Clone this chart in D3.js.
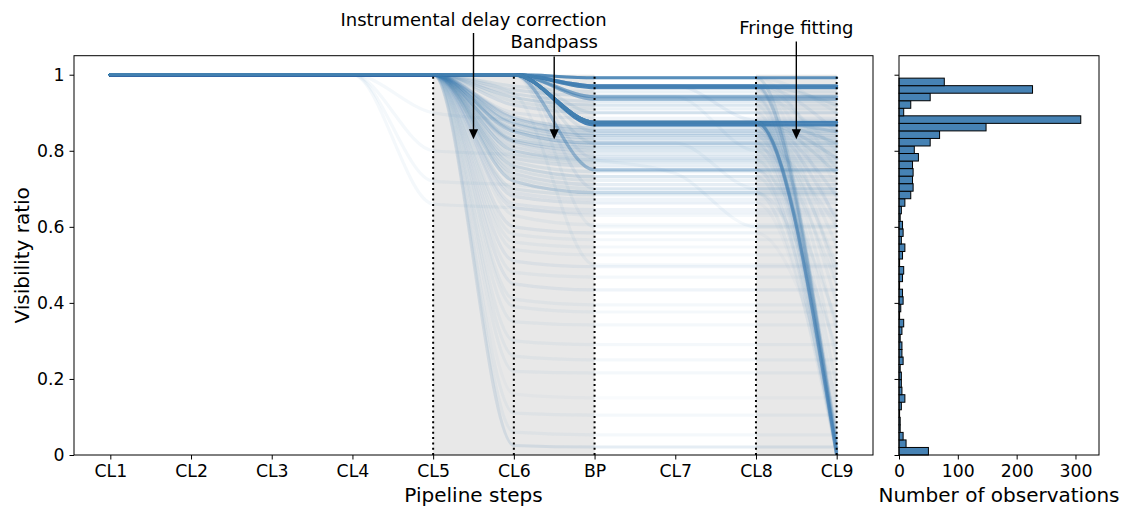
<!DOCTYPE html>
<html>
<head>
<meta charset="utf-8">
<script src="https://cdn.jsdelivr.net/npm/d3@7"></script>
<style>
  html, body { margin: 0; padding: 0; background: #fff; }
  svg { display: block; font-family: "DejaVu Sans", sans-serif; }
</style>
</head>
<body>
<svg id="chart" width="1126" height="506"></svg>
<script>
// ---------------- DATA ----------------
const steps = ["CL1", "CL2", "CL3", "CL4", "CL5", "CL6", "BP", "CL7", "CL8", "CL9"];
const shadedSpans = [["CL5", "BP"], ["CL8", "CL9"]];
const dottedSteps = ["CL5", "CL6", "BP", "CL8", "CL9"];

const yTicks = [0, 0.2, 0.4, 0.6, 0.8, 1];
const yTickLabels = ["0", "0.2", "0.4", "0.6", "0.8", "1"];
const histTicks = [0, 100, 200, 300];
const histTickLabels = ["0", "100", "200", "300"];

// Visibility ratio of groups of observations at every pipeline step (CL1 ... CL9)
const trajValues = [
  // main groups (split only by bandpass)
  [1,1,1,1,1,1,0.992,0.992,0.992,0.992],
  [1,1,1,1,1,1,0.971,0.971,0.971,0.971],
  [1,1,1,1,1,1,0.966,0.966,0.966,0.966],
  [1,1,1,1,1,1,0.942,0.942,0.942,0.942],
  [1,1,1,1,1,1,0.936,0.936,0.936,0.936],
  [1,1,1,1,1,1,0.875,0.875,0.875,0.875],
  [1,1,1,1,1,1,0.868,0.868,0.868,0.868],
  [1,1,1,1,1,1,0.75,0.75,0.75,0.75],
  // instrumental delay correction losses
  [1,1,1,1,1,0.97,0.955,0.955,0.955,0.955],
  [1,1,1,1,1,0.96,0.945,0.945,0.945,0.945],
  [1,1,1,1,1,0.95,0.93,0.93,0.93,0.93],
  [1,1,1,1,1,0.94,0.92,0.92,0.92,0.92],
  [1,1,1,1,1,0.93,0.91,0.91,0.91,0.91],
  [1,1,1,1,1,0.92,0.9,0.9,0.9,0.9],
  [1,1,1,1,1,0.9,0.885,0.885,0.885,0.885],
  [1,1,1,1,1,0.89,0.86,0.86,0.86,0.86],
  [1,1,1,1,1,0.885,0.853,0.853,0.853,0.853],
  [1,1,1,1,1,0.875,0.845,0.845,0.845,0.845],
  [1,1,1,1,1,0.87,0.84,0.84,0.84,0.84],
  [1,1,1,1,1,0.86,0.834,0.834,0.834,0.834],
  [1,1,1,1,1,0.855,0.828,0.828,0.828,0.828],
  [1,1,1,1,1,0.85,0.82,0.82,0.82,0.82],
  [1,1,1,1,1,0.84,0.815,0.815,0.815,0.815],
  [1,1,1,1,1,0.83,0.808,0.808,0.808,0.808],
  [1,1,1,1,1,0.825,0.8,0.8,0.8,0.8],
  [1,1,1,1,1,0.82,0.792,0.792,0.792,0.792],
  [1,1,1,1,1,0.81,0.785,0.785,0.785,0.785],
  [1,1,1,1,1,0.8,0.776,0.776,0.776,0.776],
  [1,1,1,1,1,0.79,0.768,0.768,0.768,0.768],
  [1,1,1,1,1,0.78,0.76,0.76,0.76,0.76],
  [1,1,1,1,1,0.77,0.745,0.745,0.745,0.745],
  [1,1,1,1,1,0.76,0.732,0.732,0.732,0.732],
  [1,1,1,1,1,0.75,0.722,0.722,0.722,0.722],
  [1,1,1,1,1,0.74,0.711,0.711,0.711,0.711],
  [1,1,1,1,1,0.73,0.7,0.7,0.7,0.7],
  [1,1,1,1,1,0.72,0.69,0.69,0.69,0.69],
  [1,1,1,1,1,0.7,0.684,0.684,0.684,0.684],
  [1,1,1,1,1,0.69,0.672,0.672,0.672,0.672],
  [1,1,1,1,1,0.68,0.663,0.663,0.663,0.663],
  [1,1,1,1,1,0.66,0.645,0.645,0.645,0.645],
  [1,1,1,1,1,0.65,0.637,0.637,0.637,0.637],
  [1,1,1,1,1,0.63,0.605,0.605,0.605,0.605],
  [1,1,1,1,1,0.6,0.584,0.584,0.584,0.584],
  [1,1,1,1,1,0.58,0.566,0.566,0.566,0.566],
  [1,1,1,1,1,0.56,0.547,0.547,0.547,0.547],
  [1,1,1,1,1,0.54,0.526,0.526,0.526,0.526],
  [1,1,1,1,1,0.51,0.495,0.495,0.495,0.495],
  [1,1,1,1,1,0.48,0.468,0.468,0.468,0.468],
  [1,1,1,1,1,0.45,0.434,0.434,0.434,0.434],
  [1,1,1,1,1,0.41,0.395,0.395,0.395,0.395],
  [1,1,1,1,1,0.39,0.376,0.376,0.376,0.376],
  [1,1,1,1,1,0.35,0.342,0.342,0.342,0.342],
  [1,1,1,1,1,0.3,0.29,0.29,0.29,0.29],
  [1,1,1,1,1,0.26,0.25,0.25,0.25,0.25],
  [1,1,1,1,1,0.22,0.216,0.216,0.216,0.216],
  [1,1,1,1,1,0.16,0.15,0.15,0.15,0.15],
  [1,1,1,1,1,0.11,0.105,0.105,0.105,0.105],
  [1,1,1,1,1,0.06,0.053,0.053,0.053,0.053],
  [1,1,1,1,1,0.025,0.021,0.021,0.021,0.021],
  // extra bandpass losses
  [1,1,1,1,1,1,0.9,0.9,0.9,0.9],
  [1,1,1,1,1,1,0.85,0.85,0.85,0.85],
  [1,1,1,1,1,1,0.82,0.82,0.82,0.82],
  [1,1,1,1,1,1,0.78,0.78,0.78,0.78],
  [1,1,1,1,1,1,0.7,0.7,0.7,0.7],
  [1,1,1,1,1,1,0.6,0.6,0.6,0.6],
  [1,1,1,1,1,0.95,0.5,0.5,0.5,0.5],
  // losses before CL5
  [1,1,1,1,0.8,0.79,0.77,0.77,0.77,0.77],
  [1,1,1,1,0.72,0.71,0.69,0.69,0.69,0.69],
  [1,1,1,1,0.66,0.65,0.63,0.63,0.63,0.63],
  [1,1,1,1,0.9,0.88,0.86,0.86,0.86,0.86],
  // losses between CL7 and CL8
  [1,1,1,1,1,1,0.971,0.971,0.88,0.88],
  [1,1,1,1,1,1,0.942,0.942,0.8,0.8],
  [1,1,1,1,1,0.85,0.82,0.82,0.7,0.7],
  [1,1,1,1,1,0.8,0.776,0.74,0.6,0.6],
  // fringe fitting partial losses
  [1,1,1,1,1,1,0.875,0.875,0.875,0.85],
  [1,1,1,1,1,1,0.875,0.875,0.875,0.82],
  [1,1,1,1,1,1,0.875,0.875,0.875,0.78],
  [1,1,1,1,1,1,0.875,0.875,0.875,0.74],
  [1,1,1,1,1,1,0.875,0.875,0.875,0.68],
  [1,1,1,1,1,1,0.875,0.875,0.875,0.62],
  [1,1,1,1,1,1,0.875,0.875,0.875,0.55],
  [1,1,1,1,1,1,0.875,0.875,0.875,0.48],
  [1,1,1,1,1,1,0.875,0.875,0.875,0.4],
  [1,1,1,1,1,1,0.875,0.875,0.875,0.33],
  [1,1,1,1,1,1,0.875,0.875,0.875,0.25],
  [1,1,1,1,1,1,0.875,0.875,0.875,0.18],
  [1,1,1,1,1,1,0.875,0.875,0.875,0.12],
  [1,1,1,1,1,1,0.971,0.971,0.971,0.92],
  [1,1,1,1,1,1,0.971,0.971,0.971,0.85],
  [1,1,1,1,1,1,0.971,0.971,0.971,0.75],
  [1,1,1,1,1,1,0.971,0.971,0.971,0.6],
  [1,1,1,1,1,1,0.971,0.971,0.971,0.45],
  [1,1,1,1,1,1,0.992,0.992,0.992,0.9],
  [1,1,1,1,1,1,0.992,0.992,0.992,0.7],
  [1,1,1,1,1,1,0.942,0.942,0.942,0.8],
  [1,1,1,1,1,1,0.75,0.75,0.75,0.35],
  [1,1,1,1,1,0.72,0.69,0.69,0.69,0.28],
  [1,1,1,1,1,0.6,0.584,0.584,0.584,0.15],
  [1,1,1,1,1,0.83,0.808,0.808,0.808,0.45],
  [1,1,1,1,1,0.85,0.82,0.82,0.82,0.6],
  [1,1,1,1,1,0.875,0.845,0.845,0.845,0.5],
  // fringe fitting failures
  [1,1,1,1,1,1,0.875,0.875,0.875,0.0],
  [1,1,1,1,1,1,0.875,0.875,0.875,0.005],
  [1,1,1,1,1,1,0.868,0.868,0.868,0.01],
  [1,1,1,1,1,1,0.875,0.875,0.875,0.02],
  [1,1,1,1,1,1,0.875,0.875,0.875,0.035],
  [1,1,1,1,1,1,0.875,0.875,0.875,0.05],
  [1,1,1,1,1,1,0.868,0.868,0.868,0.07],
  [1,1,1,1,1,1,0.971,0.971,0.971,0.0],
  [1,1,1,1,1,1,0.966,0.966,0.966,0.01],
  [1,1,1,1,1,1,0.971,0.971,0.971,0.03],
  [1,1,1,1,1,1,0.992,0.992,0.992,0.0],
  [1,1,1,1,1,1,0.992,0.992,0.992,0.02],
  [1,1,1,1,1,1,0.942,0.942,0.942,0.01],
  [1,1,1,1,1,1,0.936,0.936,0.936,0.04],
  [1,1,1,1,1,0.885,0.853,0.853,0.853,0.0],
  [1,1,1,1,1,0.87,0.84,0.84,0.84,0.01],
  [1,1,1,1,1,0.85,0.82,0.82,0.82,0.0],
  [1,1,1,1,1,0.825,0.8,0.8,0.8,0.02],
  [1,1,1,1,1,0.8,0.776,0.776,0.776,0.0],
  [1,1,1,1,1,1,0.75,0.75,0.75,0.0],
  [1,1,1,1,1,0.76,0.732,0.732,0.732,0.01],
  [1,1,1,1,1,0.72,0.69,0.69,0.69,0.0],
  [1,1,1,1,1,0.68,0.663,0.663,0.663,0.03],
  [1,1,1,1,1,0.92,0.9,0.9,0.9,0.0],
  [1,1,1,1,1,0.94,0.92,0.92,0.92,0.02]
];
// number of observations following each trajectory
const trajCounts = [
  65, 110, 110, 25, 25, 280, 150, 16,
  4, 5, 5, 5, 4, 3, 3, 5, 6, 6, 6, 6, 6, 6, 6, 6, 5, 5, 5, 5, 4, 5, 4, 5, 4, 5, 4, 5, 4, 3, 3, 3, 3,
  2, 2, 2, 2, 2, 3, 2, 3, 2, 2, 2, 2, 2, 2, 1, 2, 2, 5,
  4, 4, 4, 3, 3, 2, 2,
  2, 2, 2, 2,
  3, 2, 2, 2,
  8, 6, 5, 4, 3, 3, 2, 2, 2, 2, 2, 2, 2,
  4, 3, 2, 1, 1, 2, 1, 2, 2, 2, 1, 2, 2, 2,
  18, 10, 8, 6, 5, 4, 3, 6, 5, 3, 4, 2, 3, 2, 3, 3, 3, 2, 2, 3, 2, 2, 1, 2, 2
];

// histogram of final visibility ratio (50 bins from 0 to 0.991, lowest bin first)
const histMin = 0;
const histMax = 0.991;
const histCounts = [
  50, 12, 7, 2, 2, 1, 4, 10, 5, 4,
  4, 2, 7, 5, 5, 2, 5, 8, 1, 3,
  7, 6, 1, 6, 8, 1, 6, 10, 4, 7,
  6, 2, 4, 10, 20, 24, 23, 24, 23, 33,
  26, 53, 69, 148, 309, 8, 20, 53, 227, 77
];

const annotationTexts = ["Instrumental delay correction", "Bandpass", "Fringe fitting"];
const annotationSteps = [4.5, 5.5, 8.5];
const annotationTarget = [0.83, 0.83, 0.83];

// ---------------- LAYOUT / STYLE ----------------
const main = { left: 74, right: 873, top: 55.7, bottom: 455 };
const hist = { left: 899, right: 1099, top: 55.7, bottom: 455 };
const annTextY = [26, 47.5, 33.5];
const annArrowStartY = [33, 56.5, 41.5];
const blue = "steelblue";
const perLineAlpha = 0.03;
const tickFont = 17.3, labelFont = 20, annFont = 18;

const svg = d3.select("#chart");

const x = d3.scaleLinear().domain([-0.45, 9.45]).range([main.left, main.right]);
const y = d3.scaleLinear().domain([0, 1.05]).range([main.bottom, main.top]);
const hx = d3.scaleLinear().domain([0, 340]).range([hist.left, hist.right]);
const hy = d3.scaleLinear().domain([0, 1.05]).range([hist.bottom, hist.top]);
const stepIndex = s => steps.indexOf(s);

svg.append("defs").append("clipPath").attr("id", "mainclip")
  .append("rect").attr("x", main.left).attr("y", main.top)
  .attr("width", main.right - main.left).attr("height", main.bottom - main.top);

const plot = svg.append("g").attr("clip-path", "url(#mainclip)");

// shaded spans
plot.selectAll("rect.span").data(shadedSpans).join("rect")
  .attr("class", "span")
  .attr("x", d => x(stepIndex(d[0])))
  .attr("width", d => x(stepIndex(d[1])) - x(stepIndex(d[0])))
  .attr("y", y(1))
  .attr("height", y(0) - y(1))
  .attr("fill", "#e8e8e8");

// trajectories
const line = d3.line()
  .x((d, i) => x(i))
  .y(d => y(d))
  .curve(d3.curveMonotoneX);

const trajData = trajValues.map((v, i) => ({ v, c: trajCounts[i] }));
plot.selectAll("path.traj").data(trajData).join("path")
  .attr("class", "traj")
  .attr("d", d => line(d.v))
  .attr("fill", "none")
  .attr("stroke", blue)
  .attr("stroke-width", 3.2)
  .attr("stroke-linecap", "round")
  .attr("stroke-opacity", d => 1 - Math.pow(1 - perLineAlpha, d.c));

// dotted vertical lines
plot.selectAll("line.dot").data(dottedSteps).join("line")
  .attr("class", "dot")
  .attr("x1", d => x(stepIndex(d))).attr("x2", d => x(stepIndex(d)))
  .attr("y1", y(0)).attr("y2", y(1))
  .attr("stroke", "#000").attr("stroke-width", 2)
  .attr("stroke-dasharray", "2,3.3");

// main axes
const yAxis = d3.axisLeft(y).tickValues(yTicks)
  .tickFormat((d, i) => yTickLabels[i]).tickSize(4.5).tickPadding(5).tickSizeOuter(0);
const gy = svg.append("g").attr("transform", `translate(${main.left},0)`).call(yAxis);
const xAxis = d3.axisBottom(x).tickValues(d3.range(steps.length))
  .tickFormat(i => steps[i]).tickSize(4.5).tickPadding(5).tickSizeOuter(0);
const gx = svg.append("g").attr("transform", `translate(0,${main.bottom})`).call(xAxis);
[gx, gy].forEach(g => {
  g.select(".domain").remove();
  g.selectAll("text").attr("font-size", tickFont).attr("font-family", "DejaVu Sans").attr("fill", "#000");
  g.selectAll("line").attr("stroke", "#000").attr("stroke-width", 1);
});
svg.append("rect").attr("x", main.left).attr("y", main.top)
  .attr("width", main.right - main.left).attr("height", main.bottom - main.top)
  .attr("fill", "none").attr("stroke", "#000").attr("stroke-width", 1);

svg.append("text").attr("x", (main.left + main.right) / 2).attr("y", 501.5)
  .attr("text-anchor", "middle").attr("font-size", labelFont).text("Pipeline steps");
svg.append("text")
  .attr("transform", `translate(29,${(main.top + main.bottom) / 2}) rotate(-90)`)
  .attr("text-anchor", "middle").attr("font-size", labelFont).text("Visibility ratio");

// annotations
annotationTexts.forEach((t, i) => {
  const ax = x(annotationSteps[i]);
  const tipY = y(annotationTarget[i]);
  svg.append("text").attr("x", ax).attr("y", annTextY[i])
    .attr("text-anchor", "middle").attr("font-size", annFont).text(t);
  svg.append("line").attr("x1", ax).attr("x2", ax)
    .attr("y1", annArrowStartY[i]).attr("y2", tipY - 8)
    .attr("stroke", "#000").attr("stroke-width", 1.4);
  svg.append("path")
    .attr("d", `M${ax},${tipY} L${ax - 4.6},${tipY - 10} L${ax + 4.6},${tipY - 10} Z`)
    .attr("fill", "#000");
});

// histogram
const bw = (histMax - histMin) / histCounts.length;
svg.selectAll("rect.bar").data(histCounts).join("rect")
  .attr("class", "bar")
  .attr("x", hx(0))
  .attr("y", (d, i) => hy(histMin + (i + 1) * bw))
  .attr("width", d => hx(d) - hx(0))
  .attr("height", (d, i) => hy(histMin + i * bw) - hy(histMin + (i + 1) * bw))
  .attr("fill", blue)
  .attr("stroke", "#000")
  .attr("stroke-width", 1);

const hyAxis = d3.axisLeft(hy).tickValues(yTicks).tickFormat("").tickSize(4.5).tickSizeOuter(0);
const ghy = svg.append("g").attr("transform", `translate(${hist.left},0)`).call(hyAxis);
const hxAxis = d3.axisBottom(hx).tickValues(histTicks)
  .tickFormat((d, i) => histTickLabels[i]).tickSize(4.5).tickPadding(5).tickSizeOuter(0);
const ghx = svg.append("g").attr("transform", `translate(0,${hist.bottom})`).call(hxAxis);
[ghx, ghy].forEach(g => {
  g.select(".domain").remove();
  g.selectAll("text").attr("font-size", tickFont).attr("font-family", "DejaVu Sans").attr("fill", "#000");
  g.selectAll("line").attr("stroke", "#000").attr("stroke-width", 1);
});
svg.append("rect").attr("x", hist.left).attr("y", hist.top)
  .attr("width", hist.right - hist.left).attr("height", hist.bottom - hist.top)
  .attr("fill", "none").attr("stroke", "#000").attr("stroke-width", 1);
svg.append("text").attr("x", (hist.left + hist.right) / 2).attr("y", 501.5)
  .attr("text-anchor", "middle").attr("font-size", labelFont).text("Number of observations");
</script>
</body>
</html>
